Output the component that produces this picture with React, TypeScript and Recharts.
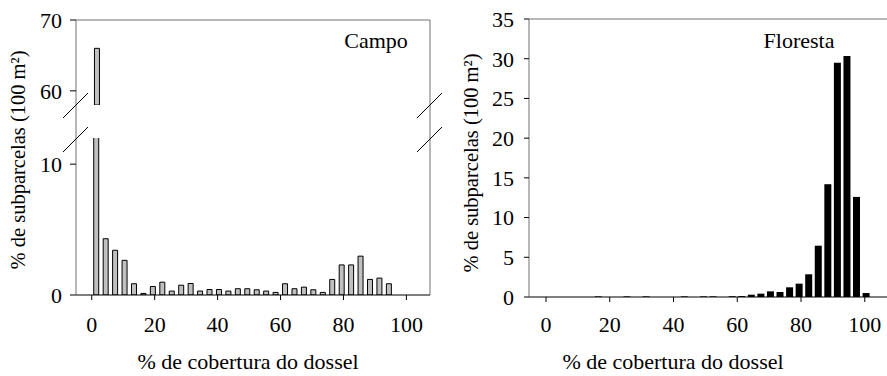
import React from 'react';
import { BarChart, Bar, XAxis, YAxis, ReferenceLine } from 'recharts';

// ponto médio de cada classe de cobertura do dossel (%)
const campoClasses = [
  1.5, 4.5, 7.5, 10.5, 13.5, 16.5, 19.5, 22.5, 25.5, 28.5, 31.5, 34.5, 37.5, 40.5, 43.5, 46.5,
  49.5, 52.5, 55.5, 58.5, 61.5, 64.5, 67.5, 70.5, 73.5, 76.5, 79.5, 82.5, 85.5, 88.5, 91.5, 94.5,
];
const campoValores = [
  66, 4.3, 3.42, 2.65, 0.86, 0.12, 0.65, 0.98, 0.3, 0.75, 0.88, 0.3, 0.42, 0.42, 0.3, 0.48,
  0.48, 0.4, 0.3, 0.2, 0.86, 0.48, 0.6, 0.4, 0.2, 1.19, 2.3, 2.3, 2.97, 1.19, 1.29, 0.86,
];

const florestaClasses = [
  1.5, 4.5, 7.5, 10.5, 13.5, 16.5, 19.5, 22.5, 25.5, 28.5, 31.5, 34.5, 37.5, 40.5, 43.5, 46.5,
  49.5, 52.5, 55.5, 58.5, 61.5, 64.5, 67.5, 70.5, 73.5, 76.5, 79.5, 82.5, 85.5, 88.5, 91.5, 94.5,
  97.5, 100.5,
];
const florestaValores = [
  0, 0, 0, 0, 0, 0.08, 0, 0, 0.08, 0, 0.08, 0, 0, 0, 0.08, 0,
  0.08, 0.08, 0, 0.1, 0.12, 0.29, 0.42, 0.71, 0.63, 1.22, 1.68, 2.86, 6.46, 14.2, 29.5, 30.35,
  12.6, 0.5,
];

const xTicks = [0, 20, 40, 60, 80, 100];
const campoTicksAlto = [60, 70];
const campoTicksBaixo = [0, 10];
const florestaTicks = [0, 5, 10, 15, 20, 25, 30, 35];

// limite inferior da parte de cima do eixo quebrado
const CORTE = 58;

const campo = campoClasses.map((x, i) => ({ x, v: campoValores[i] }));
const campoAlto = campo.filter((d) => d.v > CORTE);
const floresta = florestaClasses.map((x, i) => ({ x, v: florestaValores[i] }));

const FONT = 'Liberation Serif, Tinos, Times New Roman, serif';
const FRAME = '#707070';
const tick = { fill: '#000', fontSize: 22, fontFamily: FONT };

const xDomCampo: [number, number] = [-5, 107.5];
const xDomFloresta: [number, number] = [-5.33, 107.6];

export default function App() {
  return (
    <div
      style={{
        position: 'absolute',
        left: 0,
        top: 0,
        width: 887,
        height: 376,
        overflow: 'hidden',
        background: '#fff',
        fontFamily: FONT,
      }}
    >
      {/* Campo - parte de cima do eixo quebrado */}
      <div style={{ position: 'absolute', left: 0, top: 0 }}>
        <BarChart
          width={432}
          height={110}
          data={campoAlto}
          margin={{ top: 20, right: 2, bottom: 5, left: 0 }}
        >
          <XAxis dataKey="x" type="number" domain={xDomCampo} allowDataOverflow hide />
          <YAxis
            type="number"
            domain={[CORTE, 70]}
            ticks={campoTicksAlto}
            allowDataOverflow
            interval={0}
            width={76}
            tick={tick}
            tickSize={6}
            tickMargin={8}
            axisLine={{ stroke: FRAME }}
            tickLine={{ stroke: '#000' }}
          />
          <ReferenceLine y={70} stroke={FRAME} ifOverflow="visible" />
          <ReferenceLine x={107.5} stroke={FRAME} ifOverflow="visible" />
          <Bar dataKey="v" fill="#c0c0c0" stroke="#000" barSize={5} isAnimationActive={false} />
        </BarChart>
      </div>

      {/* Campo - parte de baixo */}
      <div style={{ position: 'absolute', left: 0, top: 0 }}>
        <BarChart
          width={432}
          height={340}
          data={campo}
          margin={{ top: 138, right: 2, bottom: 0, left: 0 }}
        >
          <XAxis
            dataKey="x"
            type="number"
            domain={xDomCampo}
            ticks={xTicks}
            allowDataOverflow
            interval={0}
            height={45}
            tick={tick}
            tickSize={5}
            tickMargin={16}
            axisLine={{ stroke: '#000' }}
            tickLine={{ stroke: '#000' }}
          />
          <YAxis
            type="number"
            domain={[0, 12]}
            ticks={campoTicksBaixo}
            allowDataOverflow
            interval={0}
            width={76}
            tick={tick}
            tickSize={6}
            tickMargin={8}
            axisLine={{ stroke: FRAME }}
            tickLine={{ stroke: '#000' }}
          />
          <ReferenceLine x={107.5} stroke={FRAME} ifOverflow="visible" />
          <Bar dataKey="v" fill="#c0c0c0" stroke="#000" barSize={5} isAnimationActive={false} />
        </BarChart>
      </div>

      {/* Floresta */}
      <div style={{ position: 'absolute', left: 453, top: 0 }}>
        <BarChart
          width={436}
          height={340}
          data={floresta}
          margin={{ top: 19, right: 0, bottom: 0, left: 0 }}
        >
          <XAxis
            dataKey="x"
            type="number"
            domain={xDomFloresta}
            ticks={xTicks}
            allowDataOverflow
            interval={0}
            height={43}
            tick={tick}
            tickSize={5}
            tickMargin={14}
            axisLine={{ stroke: '#000' }}
            tickLine={{ stroke: '#000' }}
          />
          <YAxis
            type="number"
            domain={[0, 35]}
            ticks={florestaTicks}
            interval={0}
            width={76}
            tick={tick}
            tickSize={5}
            tickMargin={10}
            axisLine={{ stroke: FRAME }}
            tickLine={{ stroke: '#000' }}
          />
          <ReferenceLine y={35} stroke={FRAME} ifOverflow="visible" />
          <Bar dataKey="v" fill="#000" barSize={7} isAnimationActive={false} />
        </BarChart>
      </div>

      {/* textos e marcas de quebra do eixo */}
      <svg
        width={887}
        height={376}
        style={{ position: 'absolute', left: 0, top: 0, pointerEvents: 'none', fontFamily: FONT }}
      >
        <line x1={76} y1={105} x2={76} y2={138} stroke={FRAME} />
        <line x1={430} y1={105} x2={430} y2={138} stroke={FRAME} />
        <line x1={63} y1={118} x2={88} y2={93} stroke="#000" />
        <line x1={63} y1={152} x2={88} y2={127} stroke="#000" />
        <line x1={417} y1={118} x2={442} y2={93} stroke="#000" />
        <line x1={417} y1={152} x2={442} y2={127} stroke="#000" />

        <text x={376} y={48} fontSize={22} textAnchor="middle">Campo</text>
        <text x={799} y={48} fontSize={22} textAnchor="middle">Floresta</text>

        <text x={248} y={369} fontSize={22} textAnchor="middle">% de cobertura do dossel</text>
        <text x={673} y={369} fontSize={22} textAnchor="middle">% de cobertura do dossel</text>

        <text
          x={18}
          y={160}
          fontSize={20.5}
          textAnchor="middle"
          dominantBaseline="central"
          transform="rotate(-90 18 160)"
        >
          % de subparcelas (100 m²)
        </text>
        <text
          x={471}
          y={163}
          fontSize={20.5}
          textAnchor="middle"
          dominantBaseline="central"
          transform="rotate(-90 471 163)"
        >
          % de subparcelas (100 m²)
        </text>
      </svg>
    </div>
  );
}
